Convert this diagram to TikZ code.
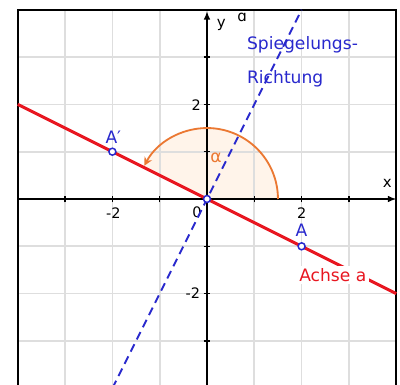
\documentclass[tikz,border=0pt]{standalone}
\usepackage{fontspec}
\setmainfont{DejaVu Sans}
\usetikzlibrary{arrows.meta}
\definecolor{redl}{RGB}{232,22,32}
\definecolor{bluel}{RGB}{40,40,205}
\definecolor{orangel}{RGB}{235,120,50}
\definecolor{gridc}{RGB}{222,222,222}
\definecolor{sectorc}{RGB}{255,244,234}
\tikzset{
  lbl/.style={font=\fontsize{10.3}{12}\selectfont, inner sep=0pt},
  ticklbl/.style={font=\fontsize{8.7}{10}\selectfont, inner sep=0pt},
  axlbl/.style={font=\fontsize{9}{11}\selectfont, inner sep=0pt},
  pt/.style={circle, draw=bluel, fill=white, line width=0.9pt, minimum size=4.2pt, inner sep=0pt},
  axisline/.style={line width=0.9pt, black},
  tickm/.style={line width=0.8pt, black}
}
\begin{document}
\begin{tikzpicture}[x=1cm,y=1cm]
\useasboundingbox (-4.376,-3.932) rectangle (4.080,4.207);
\clip (-4.376,-3.932) rectangle (4.080,4.207);
\fill[white] (-4.376,-3.932) rectangle (4.080,4.207);
% sector
\fill[sectorc] (0,0) -- (1.5,0) arc[start angle=0, end angle=153.43, radius=1.5] -- cycle;
% grid
\draw[gridc, line width=1pt] (-4,-4.2) grid (4,4);
% frame
\draw[line width=1.5pt, black] (-4,-4.3) -- (-4,4) -- (4,4) -- (4,-4.3);
% axes
\coordinate (xl) at (-4,0);
\coordinate (xr) at (4,0);
\coordinate (yb) at (0,-4.3);
\coordinate (yt) at (0,3.97);
\draw[axisline, -{Latex[length=5pt,width=4pt]}] (xl) -- (xr);
\draw[axisline, -{Latex[length=5pt,width=4pt]}] (yb) -- (yt);
\foreach \i in {-3,-2,-1,1,2,3} {
  \draw[tickm] (\i,-0.07) -- (\i,0.07);
  \draw[tickm] (-0.07,\i) -- (0.07,\i);
}
% tick labels
\node[ticklbl] (tx1) at (-1.98,-0.30) {-2};
\node[ticklbl] (tx2) at (2,-0.30) {2};
\node[ticklbl] (ty1) at (-0.23,1.99) {2};
\node[ticklbl] (ty2) at (-0.30,-1.99) {-2};
\node[ticklbl] (t0) at (-0.21,-0.28) {0};
\node[axlbl] (xlab) at (3.81,0.34) {x};
\node[axlbl] (ylab) at (0.30,3.68) {y};
\node[axlbl] (alab) at (0.74,3.83) {ɑ};
% mirror direction (dashed blue)
\coordinate (B1) at (-2,-4);
\coordinate (B2) at (2,4);
\draw[bluel, line width=1.2pt, dash pattern=on 5pt off 3.2pt] (B1) -- (B2);
% arc
\draw[orangel, line width=1.1pt, -{Stealth[length=5pt,width=5pt]}] (1.5,0) arc[start angle=0, end angle=152, radius=1.5];
\node[lbl, text=orangel] (alpha) at (0.19,0.87) {α};
% axis a
\coordinate (L) at (-4,2);
\coordinate (R) at (4,-2);
\draw[redl, line width=1.8pt] (L) -- (R);
\node[lbl, text=redl, fill=white, inner sep=1.5pt] (achse) at (2.66,-1.61) {Achse a};
% points
\node[pt] (O) at (0,0) {};
\node[pt] (A) at (2,-1) {};
\node[pt] (Ap) at (-2,1) {};
\node[lbl, text=bluel, anchor=base] (Alab) at (2,-0.80) {A};
\node[lbl, text=bluel, anchor=base] (Aplab) at (-1.98,1.18) {A′};
% text
\node[lbl, text=bluel, anchor=base west] (sp1) at (0.84,3.17) {Spiegelungs-};
\node[lbl, text=bluel, anchor=base west] (sp2) at (0.84,2.44) {Richtung};
\end{tikzpicture}
\end{document}
